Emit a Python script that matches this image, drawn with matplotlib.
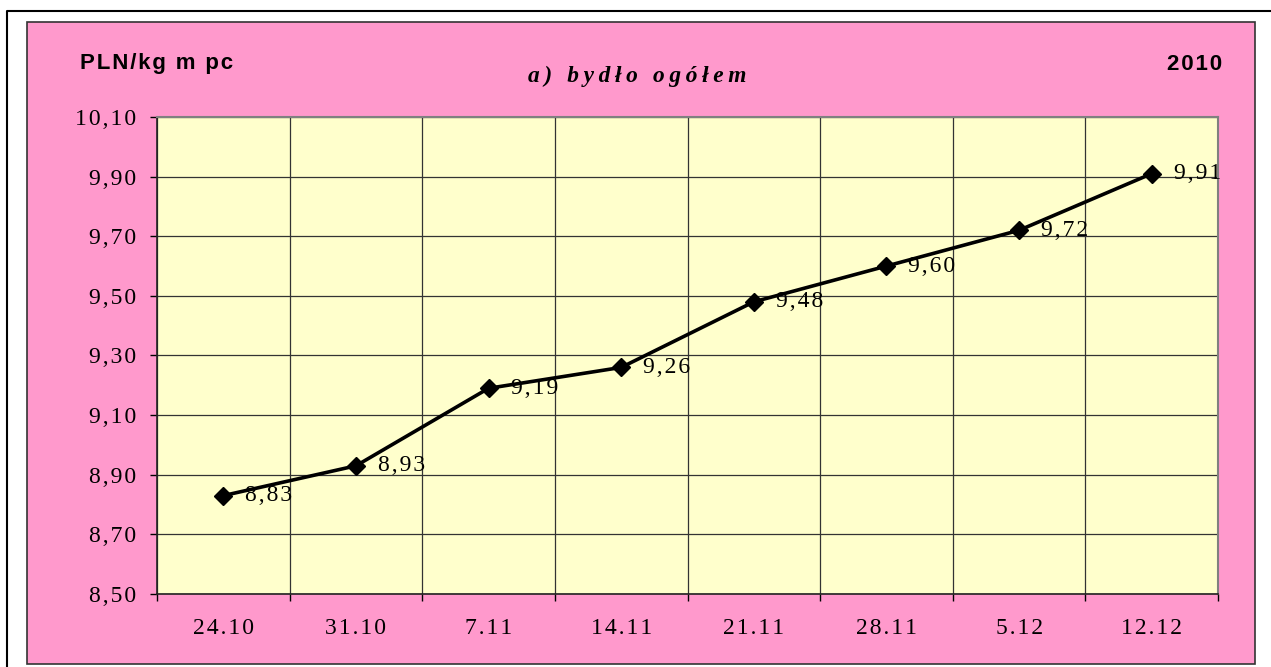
import numpy as np
import matplotlib.pyplot as plt
from matplotlib.patches import Rectangle
from matplotlib.lines import Line2D

weeks = ['24.10', '31.10', '7.11', '14.11', '21.11', '28.11', '5.12', '12.12']
prices = [8.83, 8.93, 9.19, 9.26, 9.48, 9.60, 9.72, 9.91]
yticks = [8.50, 8.70, 8.90, 9.10, 9.30, 9.50, 9.70, 9.90, 10.10]

HAIR = '\u200a'
THIN = '\u2009'


def spaced(s, sep=HAIR):
    # the original uses wide letter spacing
    return sep.join(s)


def num(v):
    return spaced(f'{v:.2f}'.replace('.', ','))


W, H = 1271, 667
fig = plt.figure(figsize=(W / 100, H / 100), dpi=100)
fig.patch.set_facecolor('white')

# outer frame (runs off the right and bottom edge)
fig.add_artist(Line2D([7 / W, 7 / W, 1.0], [0.0, 1 - 11 / H, 1 - 11 / H],
                      transform=fig.transFigure, color='black', lw=1.5))
# pink chart area
fig.add_artist(Rectangle((27 / W, 3 / H), (1255 - 27) / W, (664 - 22) / H,
                         transform=fig.transFigure, facecolor='#ff99cc',
                         edgecolor='#333333', lw=1.2, zorder=0))

ax = fig.add_axes([157 / W, (H - 594) / H, (1218 - 157) / W, (594 - 117) / H])
ax.set_facecolor('#ffffcc')
ax.set_zorder(1)

x = np.arange(len(weeks))
ax.plot(x, prices, color='black', lw=2.6, marker='D', ms=9.5, mfc='black', mec='black',
        zorder=5, clip_on=False)
for xi, v in zip(x, prices):
    ax.annotate(num(v), (xi, v), xytext=(22, 0), textcoords='offset pixels',
                ha='left', va='center', family='Liberation Serif', fontsize=17, zorder=6)

ax.set_xlim(-0.5, len(weeks) - 0.5)
ax.set_ylim(8.5, 10.1)
ax.set_yticks(yticks)
ax.set_yticklabels([num(t) for t in yticks], family='Liberation Serif', fontsize=17)
ax.set_xticks(x)
ax.set_xticklabels([spaced(w) for w in weeks], family='Liberation Serif', fontsize=17)
ax.set_xticks(np.arange(-0.5, len(weeks)), minor=True)
ax.tick_params(axis='x', which='major', length=0, pad=17)
ax.tick_params(axis='x', which='minor', length=5, width=1, direction='out')
ax.tick_params(axis='y', length=5, width=1, direction='out', pad=10)

ax.grid(True, axis='y', which='major', color='#333333', lw=0.9)
ax.grid(True, axis='x', which='minor', color='#333333', lw=0.9)
ax.set_axisbelow(True)
for s in ['left', 'bottom']:
    ax.spines[s].set_color('#222222')
    ax.spines[s].set_linewidth(1.2)
for s in ['top', 'right']:
    ax.spines[s].set_color('#808080')
    ax.spines[s].set_linewidth(1.5)

fig.text(80 / W, 1 - 64 / H, spaced('PLN/kg m pc'), family='Liberation Sans', weight='bold',
         fontsize=16, ha='left', va='center')
fig.text(1222 / W, 1 - 64 / H, spaced('2010'), family='Liberation Sans', weight='bold',
         fontsize=16, ha='right', va='center')
fig.text(637 / W, 1 - 76 / H, spaced('a) bydło ogółem', THIN), family='Liberation Serif',
         weight='bold', style='italic', fontsize=16.8, ha='center', va='center')

fig.savefig('out.png', dpi=100, facecolor=fig.get_facecolor())
